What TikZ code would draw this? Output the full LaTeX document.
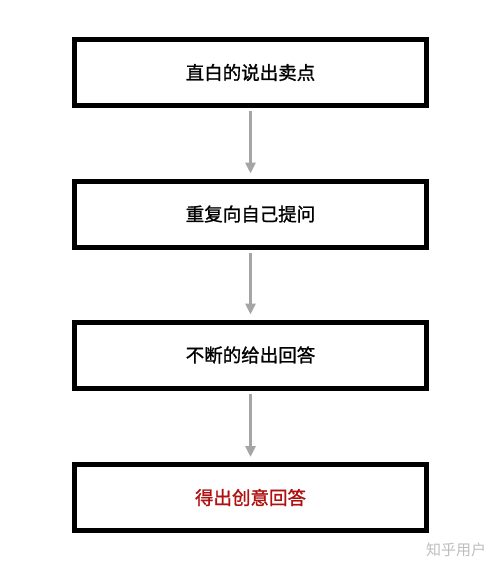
\documentclass[tikz,border=0pt]{standalone}
\usepackage{fontspec}
\newfontfamily\cjk[FakeBold=1.2]{Noto Sans CJK SC}
\newfontfamily\cjkwm{Noto Sans CJK SC}
\usetikzlibrary{arrows.meta}
\begin{document}
\begin{tikzpicture}[x=1pt,y=-1pt,
  stepbox/.style={draw=black,line width=5pt,minimum width=352pt,minimum height=66pt,inner sep=0pt,font=\cjk\fontsize{18.5}{22}\selectfont},
  flow/.style={draw={rgb,255:red,165;green,165;blue,165},line width=3pt,-{Triangle[width=10pt,length=11pt]}}]
\useasboundingbox[fill=white] (0,0) rectangle (500,570);
\node[stepbox] (b1) at (250.5,72.5) {直白的说出卖点};
\node[stepbox] (b2) at (250.5,214) {重复向自己提问};
\node[stepbox] (b3) at (250.5,355) {不断的给出回答};
\node[stepbox,text={rgb,255:red,176;green,16;blue,16}] (b4) at (250.5,497.5) {得出创意回答};
\draw[flow] ([yshift=-3pt]b1.south) -- ([yshift=5pt]b2.north);
\draw[flow] ([yshift=-3pt]b2.south) -- ([yshift=5pt]b3.north);
\draw[flow] ([yshift=-3pt]b3.south) -- ([yshift=5pt]b4.north);
\node[font=\cjkwm\fontsize{15}{17}\selectfont,text={rgb,255:red,190;green,190;blue,190}] (wm) at (456,550) {知乎用户};
\end{tikzpicture}
\end{document}
